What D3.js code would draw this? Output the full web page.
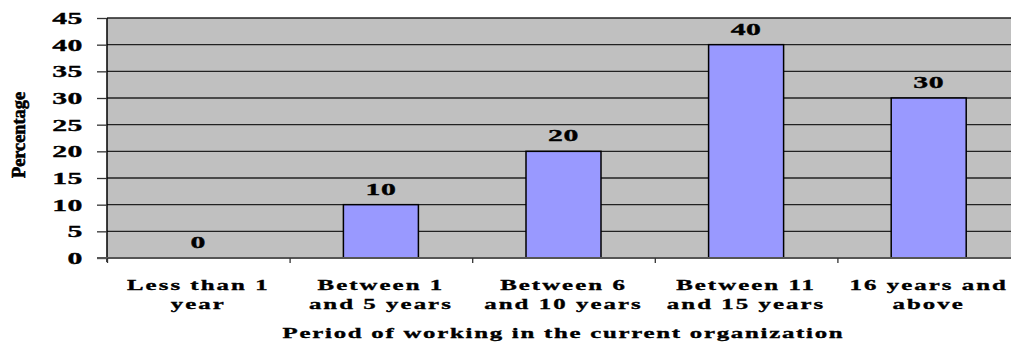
<!DOCTYPE html>
<html><head><meta charset="utf-8">
<script src="https://cdn.jsdelivr.net/npm/d3@7"></script>
<style>
html,body{margin:0;padding:0;background:#fff;overflow:hidden;}
svg text{font-family:"Liberation Serif","Times New Roman",serif;font-weight:bold;fill:#000;stroke:#000;stroke-width:0.35px;}
</style></head>
<body><svg id="chart" width="1011" height="345"></svg>
<script>
const categories = [["Less than 1","year"],["Between 1","and 5 years"],["Between 6","and 10 years"],["Between 11","and 15 years"],["16 years and","above"]];
const values = [0, 10, 20, 40, 30];
const yTicks = [0, 5, 10, 15, 20, 25, 30, 35, 40, 45];
const xTitle = "Period of working in the current organization";
const yTitle = "Percentage";

const svg = d3.select("#chart");
const m = {left:107, top:18, right:1020, bottom:258};
const SX = 1.6;
const SXN = 1.75;

const x = d3.scaleBand().domain(d3.range(categories.length)).range([m.left, m.right]).paddingInner(0).paddingOuter(0);
const y = d3.scaleLinear().domain([0,45]).range([m.bottom, m.top]);

// plot area
svg.append("rect").attr("x",m.left).attr("y",m.top).attr("width",m.right-m.left).attr("height",m.bottom-m.top).attr("fill","#C0C0C0");

// gridlines
svg.append("g").selectAll("line").data(yTicks.filter(d=>d>0)).join("line")
  .attr("x1",m.left).attr("x2",m.right).attr("y1",d=>y(d)).attr("y2",d=>y(d))
  .attr("stroke","#222").attr("stroke-width",1.3);

// bars
const bw = 75;
svg.append("g").selectAll("rect").data(values).join("rect")
  .attr("x",(d,i)=>x(i)+x.bandwidth()/2-bw/2).attr("width",bw)
  .attr("y",d=>y(d)).attr("height",d=>y(0)-y(d))
  .attr("fill","#9999FF").attr("stroke","#000").attr("stroke-width",1.5)
  .attr("display",d=>d>0?null:"none");

// y axis
const yAxis = d3.axisLeft(y).tickValues(yTicks).tickSize(10).tickFormat("");
const ya = svg.append("g").attr("transform",`translate(${m.left},0)`).call(yAxis);
ya.select(".domain").attr("stroke","#000").attr("stroke-width",1.5).attr("d",`M0,${m.top}V${m.bottom+4}`);
ya.selectAll(".tick line").attr("stroke","#333").attr("stroke-width",1.3);

// y tick labels (stretched)
svg.append("g").selectAll("g").data(yTicks).join("g")
  .attr("transform",d=>`translate(83,${y(d)+6}) scale(${SXN},1)`)
  .append("text").attr("text-anchor","end").attr("font-size",17).attr("letter-spacing",0.3).text(d=>d);

// x axis
const xAxis = d3.axisBottom(d3.scaleLinear().domain([0,categories.length]).range([m.left,m.left+x.step()*categories.length]))
  .tickValues(d3.range(categories.length+1)).tickSize(5).tickFormat("");
const xa = svg.append("g").attr("transform",`translate(0,${m.bottom})`).call(xAxis);
xa.select(".domain").attr("stroke","#555").attr("stroke-width",2).attr("d",`M${m.left-10},0H${m.right}`);
xa.selectAll(".tick line").attr("stroke","#333").attr("stroke-width",1.3);

// category labels
const cl = svg.append("g").selectAll("g").data(categories).join("g")
  .attr("transform",(d,i)=>`translate(${x(i)+x.bandwidth()/2},290) scale(${SX},1)`);
cl.each(function(lines){
  d3.select(this).selectAll("text").data(lines).join("text")
    .attr("text-anchor","middle").attr("font-size",15.5).attr("letter-spacing",1.3)
    .attr("y",(d,j)=>j*19.5).text(d=>d);
});

// value labels
svg.append("g").selectAll("g").data(values).join("g")
  .attr("transform",(d,i)=>`translate(${x(i)+x.bandwidth()/2},${y(d)-10}) scale(${SXN},1)`)
  .append("text").attr("text-anchor","middle").attr("font-size",17).attr("letter-spacing",0.3).text(d=>d);

// x title
svg.append("g").attr("transform",`translate(${(m.left+m.right)/2},338) scale(${SX},1)`)
  .append("text").attr("text-anchor","middle").attr("font-size",15.5).attr("letter-spacing",1.1).text(xTitle);

// y title
svg.append("text").attr("transform","translate(25,135) rotate(-90)")
  .attr("text-anchor","middle").attr("font-size",18).style("stroke-width","0.6px")
  .attr("textLength",86).attr("lengthAdjust","spacingAndGlyphs").text(yTitle);
</script></body></html>
